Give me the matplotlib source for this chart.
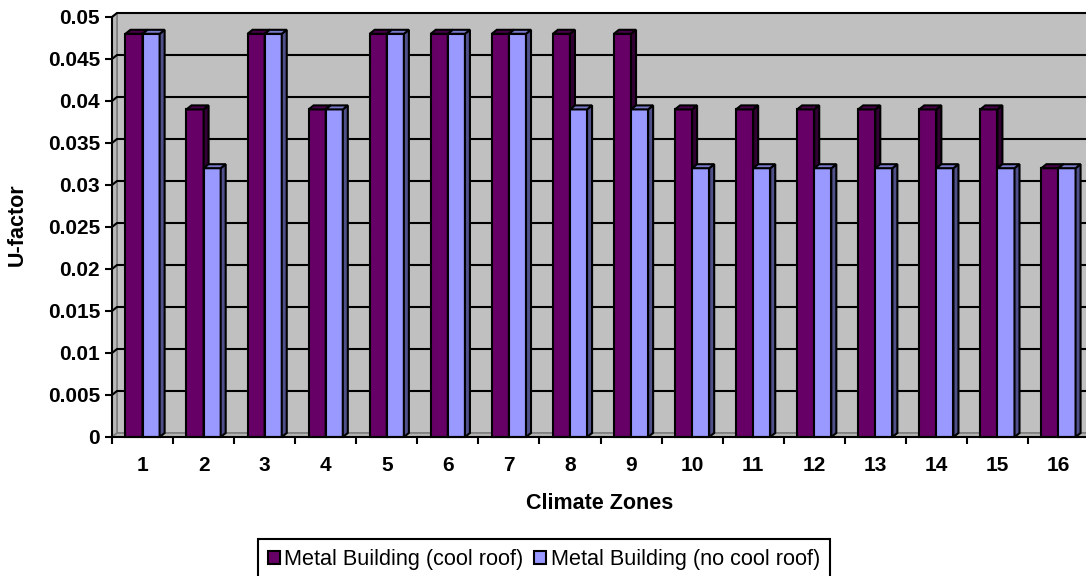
import numpy as np
import matplotlib
matplotlib.use("Agg")
import matplotlib.pyplot as plt
from matplotlib.patches import Polygon, Rectangle, Patch

# data
zones = [str(i) for i in range(1, 17)]
cool_roof = [0.048, 0.039, 0.048, 0.039, 0.048, 0.048, 0.048, 0.048,
             0.048, 0.039, 0.039, 0.039, 0.039, 0.039, 0.039, 0.032]
no_cool_roof = [0.048, 0.032, 0.048, 0.039, 0.048, 0.048, 0.048, 0.039,
                0.039, 0.032, 0.032, 0.032, 0.032, 0.032, 0.032, 0.032]
yticks = [0, 0.005, 0.01, 0.015, 0.02, 0.025, 0.03, 0.035, 0.04, 0.045, 0.05]
ytick_labels = ['0', '0.005', '0.01', '0.015', '0.02', '0.025', '0.03',
                '0.035', '0.04', '0.045', '0.05']
series_names = ['Metal Building (cool roof)', 'Metal Building (no cool roof)']

plt.rcParams['font.family'] = ['Liberation Sans', 'DejaVu Sans']

W, H = 1086, 576
fig = plt.figure(figsize=(W / 100, H / 100), dpi=100)
fig.patch.set_facecolor('white')

# axes box in pixels: left 112, right 1089, bottom 437, top 17
ax = fig.add_axes([112 / W, (H - 437) / H, 977 / W, 420 / H])
ax.set_facecolor('none')
ncat = len(zones)
ymax = 0.05
ax.set_xlim(0, ncat)
ax.set_ylim(0, ymax)

# fake 3D depth, in data units (about 5px right, 4px up)
dx = 5 / (977 / ncat)
dy = 4 / 420 * ymax

# walls and floor
ax.add_patch(Polygon([(dx, dy), (ncat + dx, dy), (ncat + dx, ymax + dy), (dx, ymax + dy)],
                     closed=True, fc='#C0C0C0', ec='#808080', lw=1.2, zorder=0, clip_on=False))
ax.add_patch(Polygon([(0, 0), (dx, dy), (dx, ymax + dy), (0, ymax)],
                     closed=True, fc='#B8B8B8', ec='#808080', lw=1.2, zorder=0, clip_on=False))
ax.add_patch(Polygon([(0, 0), (ncat, 0), (ncat + dx, dy), (dx, dy)],
                     closed=True, fc='#B4B4B4', ec='#808080', lw=1.2, zorder=0, clip_on=False))

# gridlines on the back wall
for yv in yticks[1:]:
    ax.plot([0, dx, ncat + dx], [yv, yv + dy, yv + dy], color='black', lw=1.5,
            zorder=1, clip_on=False, solid_capstyle='butt')

# bars
w = 0.28
series = [(cool_roof, '#660066', '#4A004A', '#330033', -w),
          (no_cool_roof, '#9999FF', '#7A7ACC', '#50508A', 0.0)]
for i in range(ncat):
    c = i + 0.5
    for vals, front, top, side, off in series:
        h = vals[i]
        x0 = c + off
        ax.add_patch(Rectangle((x0, 0), w, h, fc=front, ec='black', lw=1.5,
                               zorder=3, clip_on=False))
        ax.add_patch(Polygon([(x0 + w, 0), (x0 + w + dx, dy), (x0 + w + dx, h + dy), (x0 + w, h)],
                             closed=True, fc=side, ec='black', lw=1.5, zorder=3, clip_on=False))
        ax.add_patch(Polygon([(x0, h), (x0 + w, h), (x0 + w + dx, h + dy), (x0 + dx, h + dy)],
                             closed=True, fc=top, ec='black', lw=1.5, zorder=3, clip_on=False))

# axes lines and ticks
for s in ['top', 'right']:
    ax.spines[s].set_visible(False)
for s in ['left', 'bottom']:
    ax.spines[s].set_linewidth(1.5)
    ax.spines[s].set_color('black')
    ax.spines[s].set_zorder(5)

ax.set_yticks(yticks)
ax.set_yticklabels(ytick_labels, fontsize=15, fontweight='bold')
ax.tick_params(axis='y', direction='out', length=5, width=1.5, pad=3.6)

ax.set_xticks(np.arange(ncat + 1))
ax.set_xticklabels([])
ax.set_xticks(np.arange(ncat) + 0.5, minor=True)
ax.set_xticklabels(zones, minor=True, fontsize=15, fontweight='bold')
ax.tick_params(axis='x', which='major', direction='out', length=5, width=1.5)
ax.tick_params(axis='x', which='minor', length=0, pad=13.5)

fig.text(600 / W, 1 - 509 / H, 'Climate Zones', ha='center', va='baseline',
         fontsize=15.5, fontweight='bold')
fig.text(17 / W, 1 - 225 / H, 'U-factor', ha='center', va='center', rotation=90,
         fontsize=15.5, fontweight='bold')

handles = [Patch(fc='#660066', ec='black', lw=1.5), Patch(fc='#9999FF', ec='black', lw=1.5)]
leg = fig.legend(handles, series_names, loc='upper left', bbox_to_anchor=(258 / W, 1 - 539 / H),
                 ncol=2, frameon=True, fancybox=False, edgecolor='black', framealpha=1,
                 handlelength=0.56, handleheight=0.56, handletextpad=0.19, columnspacing=0.5,
                 borderpad=0.46, borderaxespad=0, fontsize=15.6)
leg.get_frame().set_linewidth(1.5)

fig.savefig('out.png', dpi=100)
